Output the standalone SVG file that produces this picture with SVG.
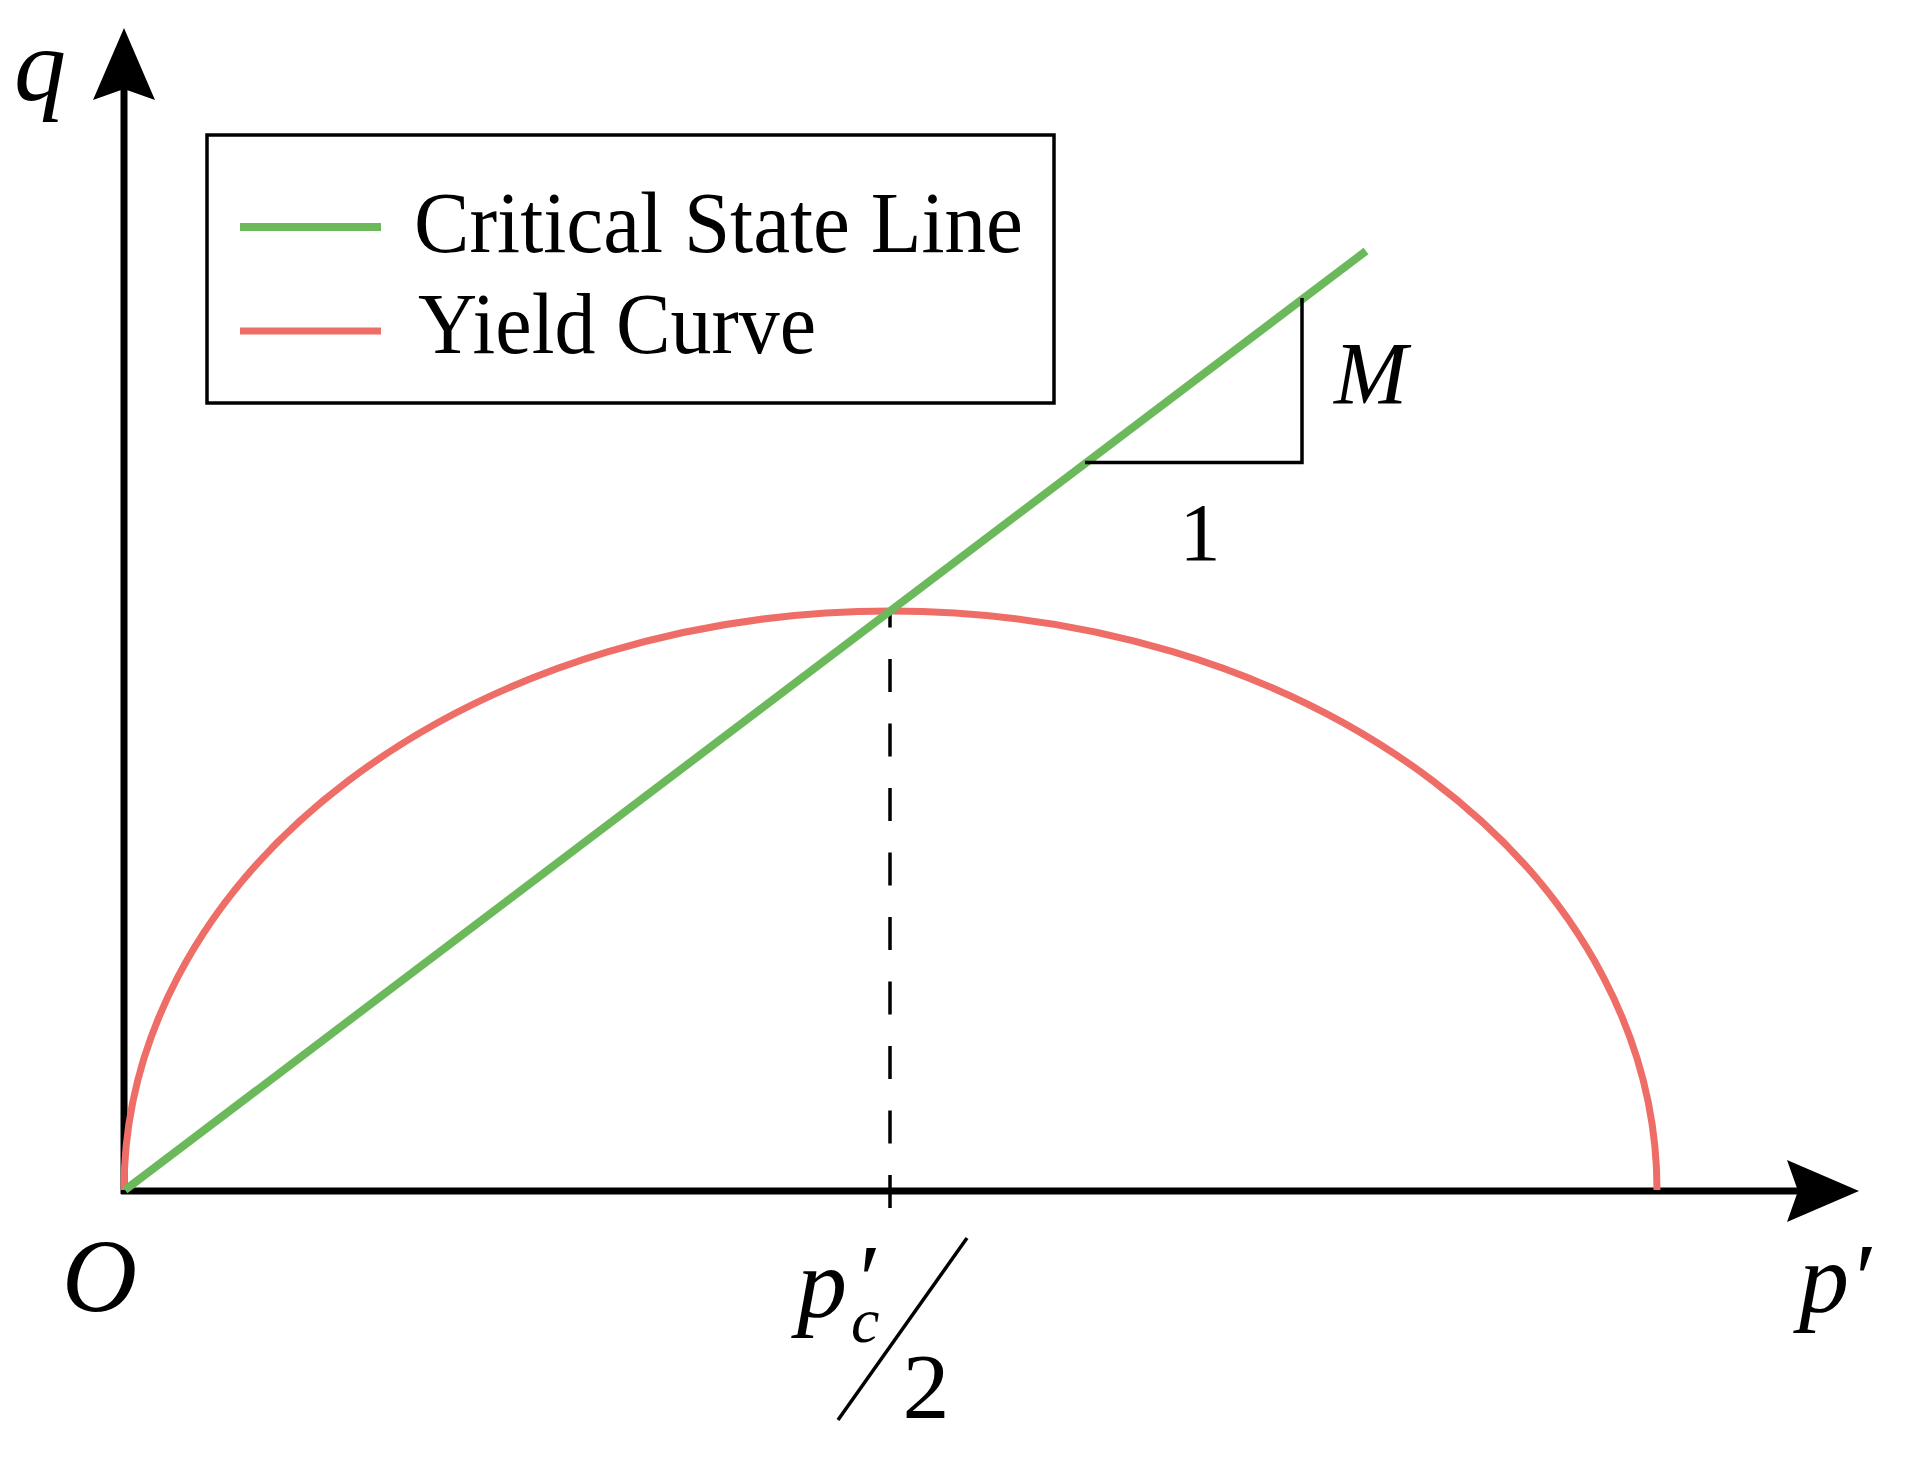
<svg xmlns="http://www.w3.org/2000/svg" width="1910" height="1459" viewBox="0 0 1910 1459">
<style>
.t{font-family:"Liberation Serif","Times New Roman",serif;fill:#000}
.it{font-style:italic}
.axis{stroke:#000;stroke-width:7;fill:none}
.csl{stroke:#6cb95c;stroke-width:8;fill:none;stroke-linecap:butt}
.yc{stroke:#ef6d67;stroke-width:7;fill:none}
.thin{stroke:#000;stroke-width:3.5;fill:none}
</style>
<defs>
<marker id="arr" markerUnits="userSpaceOnUse" markerWidth="72" markerHeight="62" viewBox="0 0 72 62" refX="11" refY="31" orient="auto">
<path d="M0,0 L72,31 L0,62 L11,31 Z" fill="#000"/>
</marker>
</defs>
<rect width="1910" height="1459" fill="#fff"/>
<g id="axes">
<line class="axis" x1="124" y1="1194" x2="124" y2="89" marker-end="url(#arr)"/>
<line class="axis" x1="121" y1="1191" x2="1798" y2="1191" marker-end="url(#arr)"/>
</g>
<g id="curves">
<path id="yield-curve" class="yc" d="M124,1190 A766.5,579 0 0 1 1657,1190"/>
<line id="dashed" x1="890" y1="1208" x2="890" y2="611" stroke="#000" stroke-width="3.5" stroke-dasharray="33 31.5"/>
<line id="csl" class="csl" x1="125" y1="1190" x2="1366" y2="251"/>
<polyline id="slope" class="thin" points="1085,462.5 1302,462.5 1302,298"/>
</g>
<g id="legend">
<rect x="207" y="135" width="847" height="268" fill="none" stroke="#000" stroke-width="3.5"/>
<line class="csl" x1="240" y1="227" x2="381" y2="227"/>
<line class="yc" x1="240" y1="331" x2="381" y2="331" stroke-width="8"/>
<text class="t" x="414" y="252" font-size="86" textLength="609" lengthAdjust="spacingAndGlyphs">Critical State Line</text>
<text class="t" x="418" y="353" font-size="86" textLength="398" lengthAdjust="spacingAndGlyphs">Yield Curve</text>
</g>
<g id="labels">
<text class="t it" x="14" y="100" font-size="104">q</text>
<text class="t it" x="62" y="1311" font-size="104">O</text>
<text class="t it" x="1799" y="1312" font-size="100">p′</text>
<text class="t it" x="1334" y="403" font-size="88">M</text>
<text class="t" x="1200" y="560" font-size="82" text-anchor="middle">1</text>
<text class="t it" x="797" y="1317" font-size="100">p<tspan x="853" y="1313">′</tspan><tspan x="851" y="1342" font-size="64">c</tspan></text>
<line class="thin" x1="838" y1="1420" x2="967" y2="1238"/>
<text class="t" x="926" y="1418" font-size="94" text-anchor="middle">2</text>
</g>
</svg>
